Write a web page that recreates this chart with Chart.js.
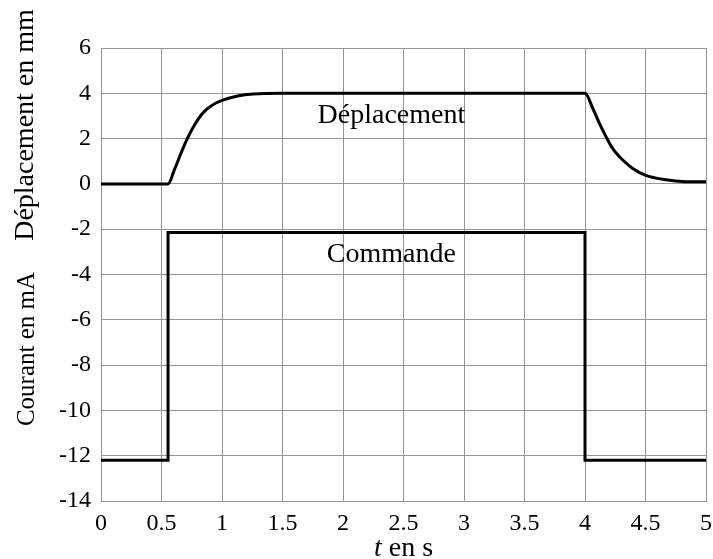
<!DOCTYPE html>
<html><head><meta charset="utf-8">
<script src="https://cdn.jsdelivr.net/npm/chart.js@4/dist/chart.umd.min.js"></script>
<style>html,body{margin:0;padding:0;background:#fff}#wrap{width:713px;height:559px}</style>
</head><body><div id="wrap"><canvas id="c" width="713" height="559"></canvas></div>
<script>
// Displacement (mm) vs time (s)
const dispTime  = [0, 0.554, 0.609, 0.664, 0.718, 0.773, 0.828, 0.87, 0.91, 0.95, 1.0, 1.128, 1.26, 1.5, 4.0, 4.064, 4.119, 4.20, 4.24, 4.285, 4.395, 4.497, 4.67, 4.83, 5.0];
const dispValue = [0, 0,     0.66,  1.39,  2.05,  2.6,   3.04,  3.28, 3.44, 3.57, 3.69, 3.88, 3.97, 4.0, 4.0, 3.34,  2.67,  1.82, 1.48, 1.2,   0.68,  0.39,  0.18, 0.1,  0.09];
// Command current (mA) vs time (s)
const cmdTime  = [0, 0.554, 0.554, 4.0, 4.0, 5.0];
const cmdValue = [-12.2, -12.2, -2.15, -2.15, -12.2, -12.2];
// Ticks
const xTicks = [0, 0.5, 1, 1.5, 2, 2.5, 3, 3.5, 4, 4.5, 5];
const yTicks = [-14, -12, -10, -8, -6, -4, -2, 0, 2, 4, 6];
// Labels
const curveLabels = ['Déplacement', 'Commande'];
const curveLabelX = [2.4, 2.4];
const curveLabelY = [2.69, -3.43];
const xTitleItalic = 't';
const xTitleRest = ' en s';
const yTitleLow = 'Courant en mA';
const yTitleHigh = 'Déplacement en mm';

const FONT = "'Liberation Serif', 'Times New Roman', serif";
const GRID = '#959595';

const textPlugin = {
  id: 'texts',
  afterDraw(chart) {
    const ctx = chart.ctx, xs = chart.scales.x, ys = chart.scales.y;
    ctx.save();
    ctx.fillStyle = '#000';
    ctx.font = '28px ' + FONT;
    ctx.textAlign = 'center';
    ctx.textBaseline = 'alphabetic';
    for (let i = 0; i < curveLabels.length; i++) {
      ctx.fillText(curveLabels[i], xs.getPixelForValue(curveLabelX[i]), ys.getPixelForValue(curveLabelY[i]));
    }
    // x title
    const cx = (chart.chartArea.left + chart.chartArea.right) / 2;
    ctx.font = 'italic 28px ' + FONT;
    const w1 = ctx.measureText(xTitleItalic).width;
    ctx.font = '28px ' + FONT;
    const w2 = ctx.measureText(xTitleRest).width;
    ctx.textAlign = 'left';
    const x0 = cx - (w1 + w2) / 2;
    ctx.font = 'italic 28px ' + FONT;
    ctx.fillText(xTitleItalic, x0, 556);
    ctx.font = '28px ' + FONT;
    ctx.fillText(xTitleRest, x0 + w1, 556);
    // y titles
    ctx.textAlign = 'center';
    ctx.save();
    ctx.translate(34, 349);
    ctx.rotate(-Math.PI / 2);
    ctx.font = '25px ' + FONT;
    ctx.fillText(yTitleLow, 0, 0);
    ctx.restore();
    ctx.save();
    ctx.translate(33, 125);
    ctx.rotate(-Math.PI / 2);
    ctx.font = '28px ' + FONT;
    ctx.fillText(yTitleHigh, 0, 0);
    ctx.restore();
    ctx.restore();
  }
};

new Chart(document.getElementById('c'), {
  type: 'line',
  data: {
    datasets: [
      {
        label: 'Déplacement',
        data: dispTime.map((t, i) => ({x: t, y: dispValue[i]})),
        borderColor: '#000', borderWidth: 3, pointRadius: 0, fill: false,
        cubicInterpolationMode: 'monotone'
      },
      {
        label: 'Commande',
        data: cmdTime.map((t, i) => ({x: t, y: cmdValue[i]})),
        borderColor: '#000', borderWidth: 3, pointRadius: 0, fill: false,
        tension: 0, borderJoinStyle: 'miter'
      }
    ]
  },
  options: {
    responsive: false,
    devicePixelRatio: 1,
    animation: false,
    layout: {padding: {top: 48, right: 7, left: 0, bottom: 0}},
    plugins: {legend: {display: false}, tooltip: {enabled: false}},
    scales: {
      x: {
        type: 'linear', min: 0, max: 5,
        afterBuildTicks: s => { s.ticks = xTicks.map(v => ({value: v})); },
        afterFit: s => { s.height = 58; s.paddingLeft = 0; s.paddingRight = 0; },
        grid: {color: GRID, lineWidth: 1, drawTicks: false},
        border: {color: GRID, width: 1},
        ticks: {color: '#000', font: {family: FONT, size: 24}, padding: 8,
                maxRotation: 0, autoSkip: false,
                callback: v => String(Math.round(v * 10) / 10)}
      },
      y: {
        type: 'linear', min: -14, max: 6,
        afterBuildTicks: s => { s.ticks = yTicks.map(v => ({value: v})); },
        afterFit: s => { s.width = 101; s.paddingTop = 0; s.paddingBottom = 0; },
        grid: {color: GRID, lineWidth: 1, drawTicks: false},
        border: {color: GRID, width: 1},
        ticks: {color: '#000', font: {family: FONT, size: 24}, padding: 10,
                autoSkip: false, callback: v => String(v)}
      }
    }
  },
  plugins: [textPlugin]
});
</script></body></html>
